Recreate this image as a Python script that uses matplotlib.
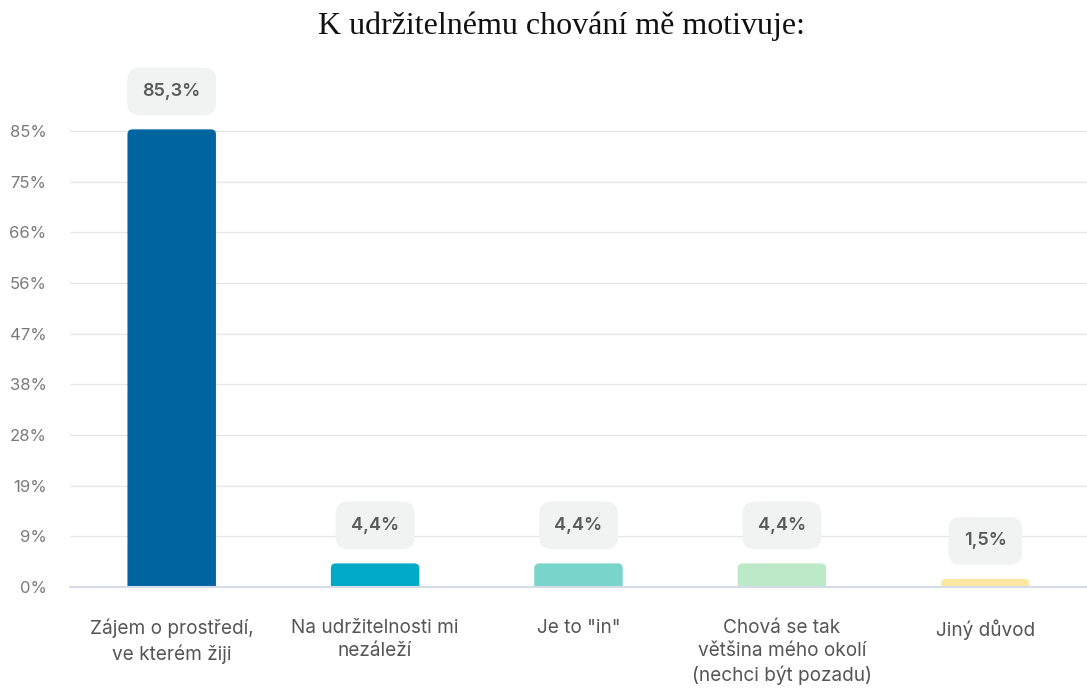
import numpy as np
import matplotlib
matplotlib.use('Agg')
import matplotlib.pyplot as plt
from matplotlib.patches import FancyBboxPatch

categories = ['Zájem o prostředí,\nve kterém žiji',
              'Na udržitelnosti mi\nnezáleží',
              'Je to "in"',
              'Chová se tak\nvětšina mého okolí\n(nechci být pozadu)',
              'Jiný důvod']
values = [85.3, 4.4, 4.4, 4.4, 1.5]
value_labels = ['85,3%', '4,4%', '4,4%', '4,4%', '1,5%']
colors = ['#00649f', '#00a9c5', '#79d4ca', '#bce9c8', '#fde8a3']
tick_labels = ['0%', '9%', '19%', '28%', '38%', '47%', '56%', '66%', '75%', '85%']
tick_pos = np.linspace(0, 85, len(tick_labels))

plt.rcParams['font.family'] = ['Inter', 'DejaVu Sans']

fig = plt.figure(figsize=(10.87, 6.89), dpi=100)
ax = fig.add_axes([70 / 1087, 1 - 587 / 689, 1017 / 1087, (587 - 50.5) / 689])
ax.set_xlim(-0.5, len(categories) - 0.5)
ax.set_ylim(0, 100)

# bars with rounded top corners (bottom corners hidden below 0)
x = np.arange(len(categories))
w = 0.435
px_x = 1017 / 5.0          # pixels per x unit
px_y = 456 / 85.0          # pixels per y unit
r = 5.0
for xi, v, c in zip(x, values, colors):
    ry = r / px_y
    p = FancyBboxPatch((xi - w / 2, -ry * 2), w, v + ry * 2,
                       boxstyle=f'round,pad=0,rounding_size={r / px_x}',
                       mutation_aspect=px_x / px_y,
                       fc=c, ec='none', zorder=3)
    ax.add_patch(p)

for xi, v, lab in zip(x, values, value_labels):
    ax.annotate(lab, xy=(xi, v), xytext=(0, 38), textcoords='offset pixels',
                ha='center', va='center', fontsize=13, fontweight='semibold',
                color='#5a5a5a', annotation_clip=False, zorder=4,
                bbox=dict(boxstyle='round,pad=0.85,rounding_size=0.7',
                          fc='#f1f2f2', ec='none'))

ax.set_yticks(tick_pos)
ax.set_yticklabels(tick_labels, fontsize=12, color='#7a7a7a')
ax.set_xticks(x)
ax.set_xticklabels(categories, fontsize=13.7, color='#555555', linespacing=1.36, va='top')
ax.tick_params(axis='y', length=0, pad=17)
ax.tick_params(axis='x', length=0, pad=23)
ax.grid(axis='y', color='#e6e6e6', lw=1, zorder=0)
for s in ['top', 'right', 'left']:
    ax.spines[s].set_visible(False)
ax.spines['bottom'].set_color('#d6dbe8')
ax.spines['bottom'].set_linewidth(1.5)
ax.spines['bottom'].set_zorder(5)

fig.text(561 / 1087, 1 - 26 / 689, 'K udržitelnému chování mě motivuje:',
         family='Liberation Serif', fontsize=23, ha='center', va='center', color='#111111')

fig.savefig('out.png', dpi=100)
